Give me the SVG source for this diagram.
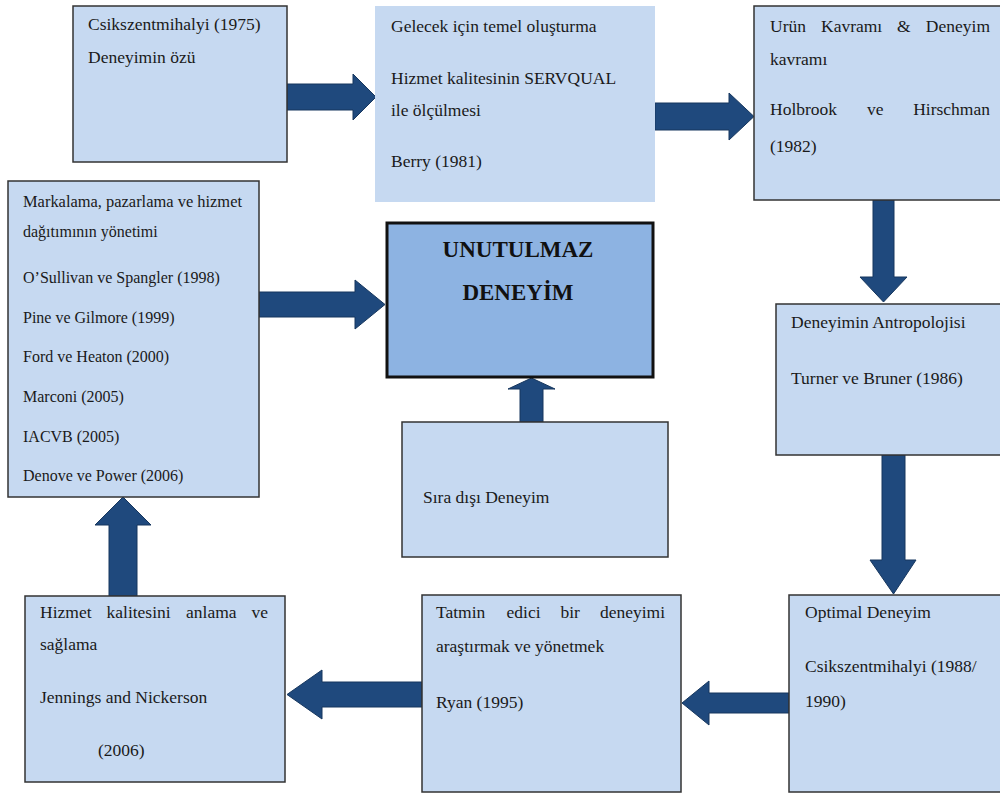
<svg xmlns="http://www.w3.org/2000/svg" width="1000" height="794" viewBox="0 0 1000 794">
  <style>
    .box { fill: #c6d9f1; stroke: #333333; stroke-width: 1.5; }
    .plain { fill: #c6d9f1; stroke: none; }
    .core { fill: #8db3e2; stroke: #111111; stroke-width: 3; }
    .txt { font-family: "Liberation Serif", "Times New Roman", serif; font-size: 17.5px; fill: #1a1a1a; }
    .small { font-size: 16px; }
    .title { font-family: "Liberation Serif", "Times New Roman", serif; font-size: 23px; font-weight: bold; fill: #111111; text-anchor: middle; }
    .arrow { fill: #1f497d; stroke: #17375e; stroke-width: 1; stroke-linejoin: miter; }
  </style>
  <rect width="1000" height="794" fill="#ffffff"/>

  <!-- block arrows between the boxes -->
  <g id="connectors">
    <polygon class="arrow" points="287,84 353,84 353,74 376,97 353,120 353,110 287,110"/>
    <polygon class="arrow" points="655,103 729,103 729,93 754,116.5 729,140 729,130 655,130"/>
    <polygon class="arrow" points="873,200 894,200 894,277 907,277 883.5,302 860,277 873,277"/>
    <polygon class="arrow" points="882,455 905,455 905,560 916,560 893.5,594 870,560 882,560"/>
    <polygon class="arrow" points="789,693 709,693 709,681 682,703 709,725 709,713 789,713"/>
    <polygon class="arrow" points="422,682 322,682 322,670 287,694.5 322,719 322,707 422,707"/>
    <polygon class="arrow" points="109,596 109,525 95,525 123,497 151,525 137,525 137,596"/>
    <polygon class="arrow" points="259,292 355,292 355,280 385,304.5 355,329 355,317 259,317"/>
    <polygon class="arrow" points="520,422 520,389 508,389 531.5,378 555,389 543,389 543,422"/>
  </g>

  <g id="node-csikszentmihalyi-1975">
    <rect class="box" x="73" y="6" width="214" height="156"/>
    <text class="txt" x="88" y="30">Csikszentmihalyi (1975)</text>
    <text class="txt" x="88" y="63">Deneyimin özü</text>
  </g>

  <g id="node-berry">
    <rect class="plain" x="375" y="6" width="280" height="196"/>
    <text class="txt" x="391" y="32">Gelecek için temel oluşturma</text>
    <text class="txt" x="391" y="84">Hizmet kalitesinin SERVQUAL</text>
    <text class="txt" x="391" y="116">ile ölçülmesi</text>
    <text class="txt" x="391" y="167">Berry (1981)</text>
  </g>

  <!-- justified lines: words placed one by one -->
  <g id="node-holbrook">
    <rect class="box" x="754" y="6" width="250" height="194"/>
    <text class="txt" y="32"><tspan x="770">Urün</tspan><tspan x="821">Kavramı</tspan><tspan x="897">&amp;</tspan><tspan x="990" text-anchor="end">Deneyim</tspan></text>
    <text class="txt" x="770" y="65">kavramı</text>
    <text class="txt" y="115"><tspan x="770">Holbrook</tspan><tspan x="867">ve</tspan><tspan x="990" text-anchor="end">Hirschman</tspan></text>
    <text class="txt" x="770" y="152">(1982)</text>
  </g>

  <g id="node-antropoloji">
    <rect class="box" x="776" y="304" width="228" height="151"/>
    <text class="txt" x="791" y="328">Deneyimin Antropolojisi</text>
    <text class="txt" x="791" y="384">Turner ve Bruner (1986)</text>
  </g>

  <g id="node-optimal">
    <rect class="box" x="789" y="595" width="215" height="197"/>
    <text class="txt" x="805" y="618">Optimal Deneyim</text>
    <text class="txt" x="805" y="672">Csikszentmihalyi (1988/</text>
    <text class="txt" x="805" y="707">1990)</text>
  </g>

  <g id="node-ryan">
    <rect class="box" x="422" y="595" width="259" height="197"/>
    <text class="txt" y="618"><tspan x="436">Tatmin</tspan><tspan x="506.5">edici</tspan><tspan x="560.5">bir</tspan><tspan x="665" text-anchor="end">deneyimi</tspan></text>
    <text class="txt" x="436" y="652">araştırmak ve yönetmek</text>
    <text class="txt" x="436" y="708">Ryan (1995)</text>
  </g>

  <g id="node-jennings">
    <rect class="box" x="25" y="596" width="260" height="186"/>
    <text class="txt" y="618"><tspan x="40">Hizmet</tspan><tspan x="106.5">kalitesini</tspan><tspan x="186">anlama</tspan><tspan x="268" text-anchor="end">ve</tspan></text>
    <text class="txt" x="40" y="650">sağlama</text>
    <text class="txt" x="40" y="703">Jennings and Nickerson</text>
    <text class="txt" x="98" y="756">(2006)</text>
  </g>

  <g id="node-markalama">
    <rect class="box" x="8" y="181" width="251" height="316"/>
    <text class="txt small" x="23" y="207" textLength="219" lengthAdjust="spacingAndGlyphs">Markalama, pazarlama ve hizmet</text>
    <text class="txt small" x="23" y="237">dağıtımının yönetimi</text>
    <text class="txt small" x="23" y="283">O’Sullivan ve Spangler (1998)</text>
    <text class="txt small" x="23" y="323">Pine ve Gilmore (1999)</text>
    <text class="txt small" x="23" y="362">Ford ve Heaton (2000)</text>
    <text class="txt small" x="23" y="402">Marconi (2005)</text>
    <text class="txt small" x="23" y="442">IACVB (2005)</text>
    <text class="txt small" x="23" y="481">Denove ve Power (2006)</text>
  </g>

  <g id="node-unutulmaz">
    <rect class="core" x="387" y="223" width="266" height="154"/>
    <text class="title" x="518" y="257">UNUTULMAZ</text>
    <text class="title" x="518" y="300">DENEYİM</text>
  </g>

  <g id="node-sira-disi">
    <rect class="box" x="402" y="422" width="266" height="135"/>
    <text class="txt" x="423" y="503">Sıra dışı Deneyim</text>
  </g>
</svg>
